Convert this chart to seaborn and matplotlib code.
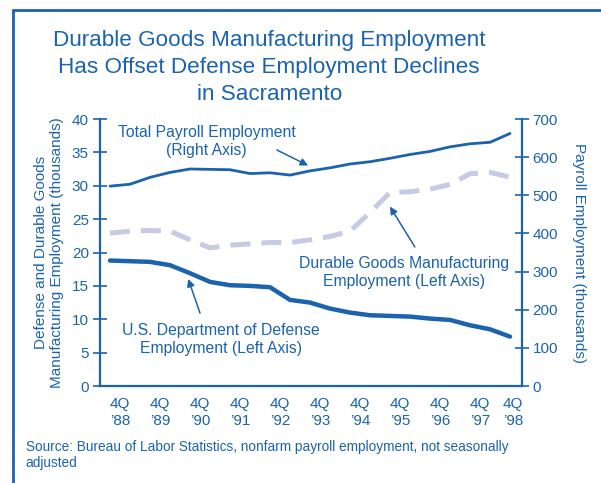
import numpy as np
import pandas as pd
import matplotlib

matplotlib.use("Agg")
import matplotlib.pyplot as plt
import seaborn as sns
from matplotlib.lines import Line2D

# semiannual readings, 4Q 1988 through 4Q 1998
payroll = [524, 529, 547, 560, 569, 568, 567, 557, 559, 553, 564,
           572, 582, 588, 597, 607, 615, 627, 635, 639, 662]
durable = [22.9, 23.2, 23.3, 23.2, 21.9, 20.7, 21.1, 21.3, 21.5, 21.5, 21.9,
           22.4, 23.2, 26.0, 29.0, 29.1, 29.5, 30.2, 31.8, 32.0, 31.3]
defense = [18.8, 18.7, 18.6, 18.1, 16.9, 15.6, 15.1, 15.0, 14.8, 12.9, 12.5,
           11.6, 11.0, 10.6, 10.5, 10.4, 10.1, 9.9, 9.1, 8.5, 7.4]
year_labels = ["4Q\n\u201988", "4Q\n\u201989", "4Q\n\u201990", "4Q\n\u201991",
               "4Q\n\u201992", "4Q\n\u201993", "4Q\n\u201994", "4Q\n\u201995",
               "4Q\n\u201996", "4Q\n\u201997", "4Q\n\u201998"]

BLUE = "#1b63ad"
LAVENDER = "#c6cbe3"

sns.set_style("white")
plt.rcParams["font.family"] = ["Liberation Sans", "DejaVu Sans"]

# x position in quarters from the left edge of the axis
quarter = np.arange(1, 2 * len(payroll), 2)
df = pd.DataFrame({"quarter": quarter, "payroll": payroll,
                   "durable": durable, "defense": defense})

fig = plt.figure(figsize=(6.01, 4.83), dpi=100)
ax = fig.add_axes([0.1664, 0.2008, 0.7022, 0.5528])
ax2 = ax.twinx()

sns.lineplot(data=df, x="quarter", y="durable", ax=ax, color=LAVENDER,
             linewidth=3.6, dashes=False)
ax.lines[-1].set_dashes([4, 2.2])
ax.lines[-1].set_dash_capstyle("butt")
sns.lineplot(data=df, x="quarter", y="defense", ax=ax, color=BLUE,
             linewidth=3.2)
sns.lineplot(data=df, x="quarter", y="payroll", ax=ax2, color=BLUE,
             linewidth=2.0)

ax.set_xlim(0, 42.2)
ax.set_ylim(0, 40)
ax2.set_ylim(0, 700)
ax.set_yticks(np.arange(0, 41, 5))
ax2.set_yticks(np.arange(0, 701, 100))
ax.set_xticks(np.arange(0, 41, 4))
ax.set_xticklabels([])
label_pos = list(np.arange(2, 40, 4)) + [41.3]
ax.set_xticks(label_pos, minor=True)
ax.set_xticklabels(year_labels, minor=True, color=BLUE, fontsize=11,
                   linespacing=1.25)

for a in (ax, ax2):
    a.set_xlabel("")
    a.spines["top"].set_visible(False)
    for s in a.spines.values():
        s.set_color(BLUE)
        s.set_linewidth(1.6)
ax.spines["right"].set_visible(False)
ax2.spines["left"].set_visible(False)
ax2.spines["bottom"].set_visible(False)

ax.tick_params(axis="y", direction="inout", length=10, width=1.2,
               colors=BLUE, labelsize=11, pad=3)
ax2.tick_params(axis="y", direction="inout", length=10, width=1.2,
                colors=BLUE, labelsize=11, pad=2.5)
ax.tick_params(axis="x", which="major", direction="inout", length=9,
               width=1.2, color=BLUE)
ax.tick_params(axis="x", which="minor", length=0, pad=8, labelcolor=BLUE)

ax.set_ylabel("Defense and Durable Goods\nManufacturing Employment (thousands)",
              color=BLUE, fontsize=11, linespacing=1.15, labelpad=6)
ax2.set_ylabel("Payroll Employment (thousands)", color=BLUE, fontsize=11,
               rotation=270, labelpad=20)

# series notes and arrows
note = dict(transform=ax.transAxes, ha="center", va="center", color=BLUE,
            fontsize=11.3, linespacing=1.25)
ax.text(0.253, 0.914, "Total Payroll Employment\n(Right Axis)", **note)
ax.text(0.72, 0.427, "Durable Goods Manufacturing\nEmployment (Left Axis)",
        **note)
ax.text(0.287, 0.176, "U.S. Department of Defense\nEmployment (Left Axis)",
        **note)
arrow = dict(arrowstyle="-|>", color=BLUE, lw=1.1, mutation_scale=11,
             shrinkA=0, shrinkB=0)
ax.annotate("", xy=(0.493, 0.826), xytext=(0.419, 0.884),
            xycoords="axes fraction", arrowprops=arrow)
ax.annotate("", xy=(0.687, 0.672), xytext=(0.746, 0.521),
            xycoords="axes fraction", arrowprops=arrow)
ax.annotate("", xy=(0.209, 0.401), xytext=(0.237, 0.273),
            xycoords="axes fraction", arrowprops=arrow)

fig.text(0.448, 0.861, "Durable Goods Manufacturing Employment\n"
         "Has Offset Defense Employment Declines\nin Sacramento",
         ha="center", va="center", color=BLUE, fontsize=16.2,
         linespacing=1.38)
fig.text(0.043, 0.058, "Source: Bureau of Labor Statistics, nonfarm payroll "
         "employment, not seasonally\nadjusted", ha="left", va="center",
         color=BLUE, fontsize=9.8, linespacing=1.25)

# frame round the exhibit
fig.add_artist(Line2D([0.0216, 1.0], [0.979, 0.979], transform=fig.transFigure,
                      color=BLUE, lw=2))
fig.add_artist(Line2D([0.0216, 0.0216], [0.0, 0.979], transform=fig.transFigure,
                      color=BLUE, lw=2))

fig.savefig("out.png", dpi=100)
